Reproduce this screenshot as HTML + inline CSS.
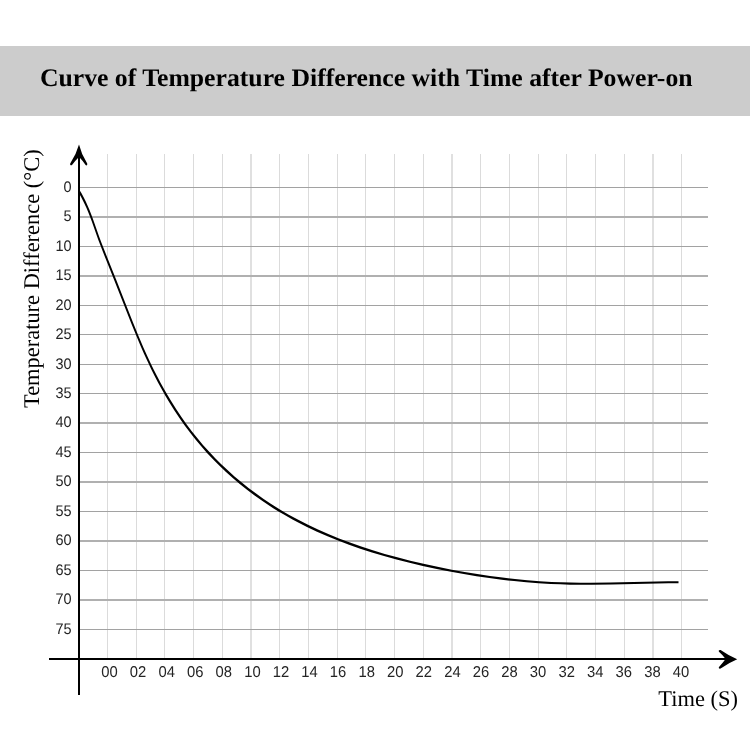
<!DOCTYPE html>
<html>
<head>
<meta charset="utf-8">
<title>Curve of Temperature Difference with Time after Power-on</title>
<style>
html,body{margin:0;padding:0;background:#fff;}
body{width:750px;height:750px;position:relative;overflow:hidden;font-family:"Liberation Sans",sans-serif;}
#bar{position:absolute;left:0;top:46px;width:750px;height:70px;background:#cccccc;}
.tt{font-family:"Liberation Serif",serif;font-weight:bold;font-size:25.2px;fill:#000;}
svg{position:absolute;left:0;top:0;text-rendering:geometricPrecision;}
body{filter:grayscale(1);}
.tk{font-family:"Liberation Sans",sans-serif;font-size:14.5px;fill:#242424;}
.tx{font-family:"Liberation Sans",sans-serif;font-size:14.8px;fill:#242424;}
.ax{font-family:"Liberation Serif",serif;font-size:22.45px;fill:#000;}
</style>
</head>
<body>
<div id="bar"></div>
<svg width="750" height="750" viewBox="0 0 750 750">
<rect x="107" y="154" width="1" height="504" fill="#dbdbdb"/>
<rect x="136" y="154" width="1" height="504" fill="#dbdbdb"/>
<rect x="164" y="154" width="1" height="504" fill="#dbdbdb"/>
<rect x="193" y="154" width="1" height="504" fill="#dbdbdb"/>
<rect x="222" y="154" width="1" height="504" fill="#dbdbdb"/>
<rect x="250" y="154" width="2" height="504" fill="#e0e0e0"/>
<rect x="279" y="154" width="1" height="504" fill="#dbdbdb"/>
<rect x="308" y="154" width="1" height="504" fill="#dbdbdb"/>
<rect x="337" y="154" width="1" height="504" fill="#dbdbdb"/>
<rect x="365" y="154" width="1" height="504" fill="#dbdbdb"/>
<rect x="394" y="154" width="1" height="504" fill="#dbdbdb"/>
<rect x="423" y="154" width="1" height="504" fill="#dbdbdb"/>
<rect x="451" y="154" width="2" height="504" fill="#e0e0e0"/>
<rect x="480" y="154" width="1" height="504" fill="#dbdbdb"/>
<rect x="509" y="154" width="1" height="504" fill="#dbdbdb"/>
<rect x="538" y="154" width="1" height="504" fill="#dbdbdb"/>
<rect x="566" y="154" width="1" height="504" fill="#dbdbdb"/>
<rect x="595" y="154" width="1" height="504" fill="#dbdbdb"/>
<rect x="624" y="154" width="1" height="504" fill="#dbdbdb"/>
<rect x="652" y="154" width="2" height="504" fill="#e0e0e0"/>
<rect x="681" y="154" width="1" height="504" fill="#dbdbdb"/>
<rect x="80" y="187" width="628" height="1" fill="#a2a2a2"/>
<rect x="80" y="216" width="628" height="2" fill="#b0b0b0"/>
<rect x="80" y="246" width="628" height="1" fill="#a2a2a2"/>
<rect x="80" y="275" width="628" height="2" fill="#b0b0b0"/>
<rect x="80" y="305" width="628" height="1" fill="#a2a2a2"/>
<rect x="80" y="334" width="628" height="1" fill="#a2a2a2"/>
<rect x="80" y="364" width="628" height="1" fill="#a2a2a2"/>
<rect x="80" y="393" width="628" height="1" fill="#a2a2a2"/>
<rect x="80" y="422" width="628" height="2" fill="#b0b0b0"/>
<rect x="80" y="452" width="628" height="1" fill="#a2a2a2"/>
<rect x="80" y="481" width="628" height="2" fill="#b0b0b0"/>
<rect x="80" y="511" width="628" height="1" fill="#a2a2a2"/>
<rect x="80" y="540" width="628" height="2" fill="#b0b0b0"/>
<rect x="80" y="570" width="628" height="1" fill="#a2a2a2"/>
<rect x="80" y="599" width="628" height="2" fill="#b0b0b0"/>
<rect x="80" y="629" width="628" height="1" fill="#a2a2a2"/>
<rect x="78" y="150" width="2" height="545" fill="#000"/>
<rect x="49" y="658" width="680" height="2" fill="#000"/>
<path d="M79,144.6 Q81.3,154.2 87.2,163.6 Q87.6,164.8 86.8,165.3 Q86,165.6 85.4,164.8 Q82.8,160.6 80,157.9 L78,157.9 Q75.2,160.6 72.2,164.8 Q71.5,165.6 70.6,165.2 Q69.8,164.7 70.2,163.6 Q76.4,154.2 79,144.6 Z" fill="#000"/>
<path d="M737.2,659.2 Q728.6,655.6 720.6,650.0 Q719.4,649.6 718.8,650.6 Q718.5,651.4 719.2,652 Q722.8,655.2 724.8,658 L724.8,660 Q722.8,662.8 719.2,666.8 Q718.5,667.6 718.9,668.3 Q719.5,669 720.6,668.6 Q728.6,662.8 737.2,659.2 Z" fill="#000"/>
<path d="M78.75,190.80 L80.00,190.80 L80.25,191.14 L81.50,193.34 L83.75,197.55 L85.75,201.60 L87.75,205.97 L89.50,210.08 L92.50,217.80 L99.00,236.16 L101.25,242.21 L104.00,249.34 L116.00,279.29 L128.25,310.59 L133.00,322.55 L138.50,335.99 L143.50,347.65 L147.00,355.47 L150.25,362.44 L153.50,369.13 L157.00,376.05 L160.50,382.67 L164.00,389.01 L167.50,395.10 L171.25,401.35 L176.25,409.26 L181.25,416.75 L186.50,424.16 L191.75,431.17 L197.25,438.10 L202.75,444.64 L208.75,451.37 L214.75,457.73 L221.25,464.23 L227.75,470.37 L234.50,476.40 L241.50,482.31 L248.50,487.90 L255.75,493.37 L263.25,498.70 L270.75,503.73 L279.50,509.24 L284.00,511.93 L288.75,514.67 L293.50,517.31 L298.25,519.86 L308.00,524.82 L318.00,529.55 L328.25,534.06 L339.00,538.45 L350.00,542.61 L361.25,546.55 L372.75,550.28 L384.75,553.88 L397.25,557.34 L410.25,560.66 L423.50,563.77 L437.50,566.80 L451.75,569.64 L464.50,571.96 L477.25,574.08 L490.00,575.98 L502.50,577.62 L515.00,579.06 L527.25,580.24 L539.50,581.20 L551.50,581.93 L561.00,582.35 L570.50,582.62 L580.50,582.76 L590.50,582.77 L610.25,582.50 L656.50,581.43 L668.00,581.28 L678.50,581.25 L678.50,583.25 L668.50,583.29 L657.25,583.44 L611.75,584.50 L591.75,584.77 L580.25,584.77 L570.00,584.64 L560.25,584.37 L550.50,583.94 L538.50,583.23 L526.25,582.27 L514.00,581.09 L501.75,579.69 L489.25,578.05 L476.50,576.16 L463.75,574.06 L451.00,571.74 L436.75,568.92 L422.75,565.90 L409.50,562.79 L396.50,559.49 L384.00,556.04 L372.00,552.46 L360.25,548.65 L349.00,544.72 L338.00,540.56 L327.50,536.29 L317.00,531.68 L307.00,526.96 L297.25,522.01 L292.50,519.47 L287.75,516.84 L283.00,514.10 L278.50,511.42 L274.00,508.64 L269.50,505.77 L261.75,500.57 L254.25,495.22 L247.00,489.74 L239.75,483.94 L232.75,478.01 L226.00,471.95 L219.50,465.79 L213.00,459.26 L207.00,452.88 L201.00,446.12 L195.50,439.55 L190.00,432.59 L184.50,425.20 L179.25,417.72 L174.25,410.18 L169.25,402.20 L165.50,395.90 L161.75,389.32 L158.00,382.43 L154.50,375.71 L151.00,368.69 L147.50,361.36 L144.00,353.71 L140.50,345.75 L136.00,335.10 L131.00,322.81 L114.75,281.42 L102.50,250.83 L98.25,239.66 L91.75,221.30 L88.75,213.43 L86.50,208.09 L84.00,202.66 L81.50,197.73 L78.75,192.80 Z" fill="#000"/>
<text transform="translate(71.6,192) scale(1,1.06)" text-anchor="end" class="tk">0</text>
<text transform="translate(71.6,221) scale(1,1.06)" text-anchor="end" class="tk">5</text>
<text transform="translate(71.6,251) scale(1,1.06)" text-anchor="end" class="tk">10</text>
<text transform="translate(71.6,280) scale(1,1.06)" text-anchor="end" class="tk">15</text>
<text transform="translate(71.6,310) scale(1,1.06)" text-anchor="end" class="tk">20</text>
<text transform="translate(71.6,339) scale(1,1.06)" text-anchor="end" class="tk">25</text>
<text transform="translate(71.6,369) scale(1,1.06)" text-anchor="end" class="tk">30</text>
<text transform="translate(71.6,398) scale(1,1.06)" text-anchor="end" class="tk">35</text>
<text transform="translate(71.6,427) scale(1,1.06)" text-anchor="end" class="tk">40</text>
<text transform="translate(71.6,457) scale(1,1.06)" text-anchor="end" class="tk">45</text>
<text transform="translate(71.6,486) scale(1,1.06)" text-anchor="end" class="tk">50</text>
<text transform="translate(71.6,516) scale(1,1.06)" text-anchor="end" class="tk">55</text>
<text transform="translate(71.6,545) scale(1,1.06)" text-anchor="end" class="tk">60</text>
<text transform="translate(71.6,575) scale(1,1.06)" text-anchor="end" class="tk">65</text>
<text transform="translate(71.6,604) scale(1,1.06)" text-anchor="end" class="tk">70</text>
<text transform="translate(71.6,634) scale(1,1.06)" text-anchor="end" class="tk">75</text>
<text transform="translate(109.5,676.7) scale(1,1.06)" text-anchor="middle" class="tx">00</text>
<text transform="translate(138.1,676.7) scale(1,1.06)" text-anchor="middle" class="tx">02</text>
<text transform="translate(166.7,676.7) scale(1,1.06)" text-anchor="middle" class="tx">04</text>
<text transform="translate(195.3,676.7) scale(1,1.06)" text-anchor="middle" class="tx">06</text>
<text transform="translate(223.8,676.7) scale(1,1.06)" text-anchor="middle" class="tx">08</text>
<text transform="translate(252.4,676.7) scale(1,1.06)" text-anchor="middle" class="tx">10</text>
<text transform="translate(281.0,676.7) scale(1,1.06)" text-anchor="middle" class="tx">12</text>
<text transform="translate(309.5,676.7) scale(1,1.06)" text-anchor="middle" class="tx">14</text>
<text transform="translate(338.1,676.7) scale(1,1.06)" text-anchor="middle" class="tx">16</text>
<text transform="translate(366.7,676.7) scale(1,1.06)" text-anchor="middle" class="tx">18</text>
<text transform="translate(395.2,676.7) scale(1,1.06)" text-anchor="middle" class="tx">20</text>
<text transform="translate(423.8,676.7) scale(1,1.06)" text-anchor="middle" class="tx">22</text>
<text transform="translate(452.4,676.7) scale(1,1.06)" text-anchor="middle" class="tx">24</text>
<text transform="translate(481.0,676.7) scale(1,1.06)" text-anchor="middle" class="tx">26</text>
<text transform="translate(509.5,676.7) scale(1,1.06)" text-anchor="middle" class="tx">28</text>
<text transform="translate(538.1,676.7) scale(1,1.06)" text-anchor="middle" class="tx">30</text>
<text transform="translate(566.7,676.7) scale(1,1.06)" text-anchor="middle" class="tx">32</text>
<text transform="translate(595.2,676.7) scale(1,1.06)" text-anchor="middle" class="tx">34</text>
<text transform="translate(623.8,676.7) scale(1,1.06)" text-anchor="middle" class="tx">36</text>
<text transform="translate(652.4,676.7) scale(1,1.06)" text-anchor="middle" class="tx">38</text>
<text transform="translate(680.9,676.7) scale(1,1.06)" text-anchor="middle" class="tx">40</text>
<text class="tt" transform="translate(39.9,85.7) scale(1.0205,1)">Curve of Temperature Difference with Time after Power-on</text>
<text class="ax" transform="translate(39.4,408) rotate(-90)">Temperature Difference (°C)</text>
<text class="ax" x="658.3" y="706.3">Time (S)</text>
</svg>
</body>
</html>
